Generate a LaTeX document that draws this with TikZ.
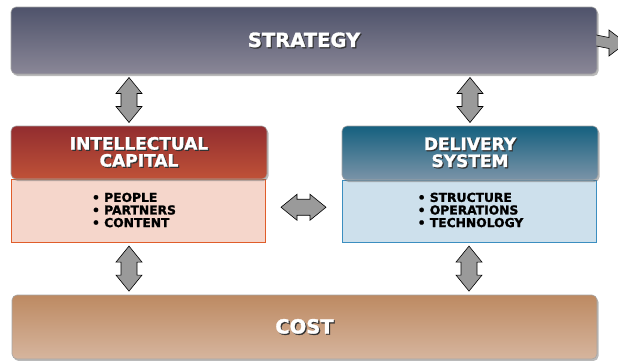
\documentclass[tikz,border=0pt]{standalone}
\usepackage{fontspec}
\setmainfont{DejaVu Sans}
\newfontfamily\heavy{DejaVu Sans Bold}[FakeBold=1.6]
\usetikzlibrary{calc,shadows}

\definecolor{stratTop}{HTML}{4F536B}
\definecolor{stratBot}{HTML}{8A8797}
\definecolor{icTop}{HTML}{922D2F}
\definecolor{icBot}{HTML}{BF5238}
\definecolor{icFill}{HTML}{F5D6CB}
\definecolor{icLine}{HTML}{E05D2A}
\definecolor{dsTop}{HTML}{15607F}
\definecolor{dsBot}{HTML}{7B94A8}
\definecolor{dsFill}{HTML}{CDE0EC}
\definecolor{dsLine}{HTML}{3B8EC0}
\definecolor{costTop}{HTML}{BD8A62}
\definecolor{costBot}{HTML}{D6B59E}
\definecolor{arrowGray}{HTML}{9A9A9A}

% white lettering with a dark offset shadow
\newcommand\shtext[1]{{\color{black!80}\rlap{\kern1.2pt\raisebox{-1.2pt}{#1}}}{\color{white}#1}}

\tikzset{
  banner/.style={rectangle, rounded corners=5pt, inner sep=0pt, shading=axis,
    draw=black!35, line width=0.6pt,
    drop shadow={shadow xshift=1.5pt, shadow yshift=-2pt, opacity=0.45, fill=black!60},
    font=\heavy\fontsize{19.5}{20}\selectfont, align=center},
  header/.style={banner, font=\heavy\fontsize{17}{17}\selectfont},
  panel/.style={rectangle, inner sep=0pt, line width=1pt},
  bullets/.style={font=\heavy\fontsize{12.3}{12.6}\selectfont, align=left, inner sep=0pt},
  arrowbody/.style={fill=arrowGray, draw=black, line width=0.6pt, line join=miter},
  pics/twoway/.style={code={
    \draw[arrowbody] (-22.5,0) -- (-6.5,13) -- (-6.5,8) -- (6.5,8) -- (6.5,13)
      -- (22.5,0) -- (6.5,-13) -- (6.5,-8) -- (-6.5,-8) -- (-6.5,-13) -- cycle;}}
}

\begin{document}
\begin{tikzpicture}[x=1pt,y=1pt]
\useasboundingbox (0,0) rectangle (618,360);

% top band
\node[banner, top color=stratTop, bottom color=stratBot,
      minimum width=586pt, minimum height=67pt] (strategy) at (304,319.5)
      {\shtext{STRATEGY}};

% outgoing arrow on the right of the top band
\coordinate (out) at (626,317);
\draw[arrowbody] ($(strategy.east)+(-1,5.5)$) -- ($(out)+(-17,5.5)$) -- ($(out)+(-17,13)$)
  -- (out) -- ($(out)+(-17,-13)$) -- ($(out)+(-17,-5.5)$) -- ($(strategy.east)+(-1,-5.5)$);

% intellectual capital column
\node[panel, fill=icFill, draw=icLine, minimum width=254pt, minimum height=63pt]
  (icbody) at (138,149.5) {};
\node[header, top color=icTop, bottom color=icBot,
      minimum width=256pt, minimum height=53pt] (ich) at (139,207.5)
      {\shtext{INTELLECTUAL}\\\shtext{CAPITAL}};
\node[bullets] (iclist) at ($(icbody.center)+(-4,0.5)$) {• PEOPLE\\• PARTNERS\\• CONTENT};

% delivery system column
\node[panel, fill=dsFill, draw=dsLine, minimum width=254pt, minimum height=62pt]
  (dsbody) at (469,149) {};
\node[header, top color=dsTop, bottom color=dsBot,
      minimum width=256pt, minimum height=54pt] (dsh) at (470,207)
      {\shtext{DELIVERY}\\\shtext{SYSTEM}};
\node[bullets] (dslist) at ($(dsbody.center)+(1.5,1)$) {• STRUCTURE\\• OPERATIONS\\• TECHNOLOGY};

% bottom band
\node[banner, top color=costTop, bottom color=costBot,
      minimum width=585pt, minimum height=64pt] (cost) at (304.5,33)
      {\shtext{COST}};

% two-way links between the blocks
\pic[rotate=90] at ($(strategy.south -| ich.north)!0.5!(ich.north)+(-10,0)$) {twoway};
\pic[rotate=90] at ($(strategy.south -| dsh.north)!0.5!(dsh.north)$) {twoway};
\pic at ($(icbody.east)!0.5!(dsbody.west)+(0,3.5)$) {twoway};
\pic[rotate=90] at ($(icbody.south)!0.5!(cost.north -| icbody.south)+(-9,0)$) {twoway};
\pic[rotate=90] at ($(dsbody.south)!0.5!(cost.north -| dsbody.south)$) {twoway};
\end{tikzpicture}
\end{document}
